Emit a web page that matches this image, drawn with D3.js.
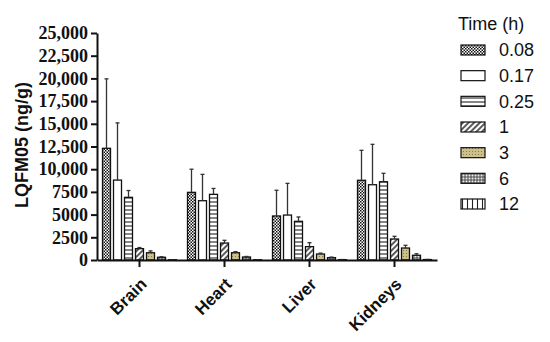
<!DOCTYPE html>
<html>
<head>
<meta charset="utf-8">
<script src="https://cdn.jsdelivr.net/npm/d3@7"></script>
<style>
body { margin: 0; background: #fff; }
</style>
</head>
<body>
<div id="chart"></div>
<script>
// data (mean and upper SD per organ, one value per time point)
const organs = ["Brain", "Heart", "Liver", "Kidneys"];
const times = ["0.08", "0.17", "0.25", "1", "3", "6", "12"];
const brainMean = [12300, 8800, 6900, 1250, 800, 300, 30];
const brainSD = [7650, 6300, 750, 120, 200, 60, 10];
const heartMean = [7450, 6530, 7230, 1870, 800, 330, 30];
const heartSD = [2550, 2900, 650, 300, 120, 60, 10];
const liverMean = [4850, 4950, 4260, 1470, 660, 260, 40];
const liverSD = [2830, 3490, 480, 440, 100, 60, 10];
const kidneysMean = [8780, 8290, 8620, 2310, 1320, 520, 50];
const kidneysSD = [3300, 4450, 930, 300, 300, 170, 10];
const yTicks = [0, 2500, 5000, 7500, 10000, 12500, 15000, 17500, 20000, 22500, 25000];

const means = [brainMean, heartMean, liverMean, kidneysMean];
const sds = [brainSD, heartSD, liverSD, kidneysSD];
const rows = [];
organs.forEach((o, i) => {
    times.forEach((t, j) => {
        rows.push({ organ: o, time: t, mean: means[i][j], sd: sds[i][j] });
    });
});

//constants
const width = 550;
const height = 342;
const margins = { top: 33, bottom: 82, left: 97, right: 113 };

const svg = d3.select("#chart")
    .append("svg")
    .attr("width", width)
    .attr("height", height);

//patterns
const defs = svg.append("defs");
function pat(id, w, h) {
    const p = defs.append("pattern")
        .attr("id", id)
        .attr("patternUnits", "userSpaceOnUse")
        .attr("width", w)
        .attr("height", h);
    return p;
}
// 0.08 checker
let p = pat("p0", 3, 3);
p.append("rect").attr("width", 3).attr("height", 3).attr("fill", "#fff");
p.append("rect").attr("width", 1.5).attr("height", 1.5).attr("fill", "#111");
p.append("rect").attr("x", 1.5).attr("y", 1.5).attr("width", 1.5).attr("height", 1.5).attr("fill", "#111");
// 0.17 white
p = pat("p1", 4, 4);
p.append("rect").attr("width", 4).attr("height", 4).attr("fill", "#fff");
// 0.25 horizontal lines
p = pat("p2", 4, 4);
p.append("rect").attr("width", 4).attr("height", 4).attr("fill", "#fff");
p.append("line").attr("x1", 0).attr("x2", 4).attr("y1", 2).attr("y2", 2).attr("stroke", "#222").attr("stroke-width", 1.1);
// 1 diagonal lines
p = pat("p3", 4, 4);
p.attr("patternTransform", "rotate(45)");
p.append("rect").attr("width", 4).attr("height", 4).attr("fill", "#fff");
p.append("line").attr("x1", 2).attr("x2", 2).attr("y1", 0).attr("y2", 4).attr("stroke", "#222").attr("stroke-width", 1.5);
// 3 khaki dotted
p = pat("p4", 3, 3);
p.append("rect").attr("width", 3).attr("height", 3).attr("fill", "#cdc08a");
p.append("circle").attr("cx", 1.5).attr("cy", 1.5).attr("r", 0.5).attr("fill", "#6b6445");
// 6 circles
p = pat("p5", 3, 3);
p.append("rect").attr("width", 3).attr("height", 3).attr("fill", "#666");
p.append("circle").attr("cx", 1.5).attr("cy", 1.5).attr("r", 1).attr("fill", "#eee");
// 12 vertical lines
p = pat("p6", 5, 5);
p.append("rect").attr("width", 5).attr("height", 5).attr("fill", "#fff");
p.append("line").attr("x1", 2.5).attr("x2", 2.5).attr("y1", 0).attr("y2", 5).attr("stroke", "#222").attr("stroke-width", 1.1);

const fillFor = d3.scaleOrdinal()
    .domain(times)
    .range(times.map((t, i) => "url(#p" + i + ")"));

//SCALES
const xScale = d3.scaleBand()
    .domain(organs)
    .range([margins.left, width - margins.right]);
const xInner = d3.scaleBand()
    .domain(times)
    .range([0, 77])
    .paddingInner(3 / 11)
    .paddingOuter(3 / 22);
const yScale = d3.scaleLinear()
    .domain([0, 25000])
    .range([height - margins.bottom, margins.top]);

const groupX = o => xScale(o) + xScale.bandwidth() / 2 - 38.5;

//bars
svg.selectAll("rect.bar")
    .data(rows)
    .join("rect")
    .attr("class", "bar")
    .attr("x", d => groupX(d.organ) + xInner(d.time))
    .attr("y", d => yScale(d.mean))
    .attr("width", xInner.bandwidth())
    .attr("height", d => yScale(0) - yScale(d.mean))
    .attr("fill", d => fillFor(d.time))
    .attr("stroke", "#111")
    .attr("stroke-width", 1.3);

//error bars (upper only)
const err = svg.selectAll("g.err")
    .data(rows)
    .join("g")
    .attr("class", "err")
    .attr("stroke", "#333")
    .attr("stroke-width", 1.3);
err.append("line")
    .attr("x1", d => groupX(d.organ) + xInner(d.time) + xInner.bandwidth() / 2)
    .attr("x2", d => groupX(d.organ) + xInner(d.time) + xInner.bandwidth() / 2)
    .attr("y1", d => yScale(d.mean))
    .attr("y2", d => yScale(d.mean + d.sd));
err.append("line")
    .attr("x1", d => groupX(d.organ) + xInner(d.time) + xInner.bandwidth() / 2 - 2)
    .attr("x2", d => groupX(d.organ) + xInner(d.time) + xInner.bandwidth() / 2 + 2)
    .attr("y1", d => yScale(d.mean + d.sd))
    .attr("y2", d => yScale(d.mean + d.sd));

//axes
const yAxis = svg.append("g")
    .attr("transform", `translate(${margins.left},0)`)
    .call(d3.axisLeft(yScale)
        .tickValues(yTicks)
        .tickSize(6)
        .tickSizeOuter(0)
        .tickPadding(3)
        .tickFormat(d => d >= 10000 ? d3.format(",")(d) : d));
yAxis.selectAll("path, line").attr("stroke", "#111").attr("stroke-width", 2);
yAxis.selectAll("text")
    .attr("font-family", "'Liberation Serif', 'Times New Roman', serif")
    .attr("font-weight", "bold")
    .attr("font-size", 18)
    .attr("fill", "#111");

const xAxis = svg.append("g")
    .attr("transform", `translate(0,${height - margins.bottom})`)
    .call(d3.axisBottom(xScale).tickSize(7).tickSizeOuter(0));
xAxis.selectAll("path, line").attr("stroke", "#111").attr("stroke-width", 2);
xAxis.selectAll("text")
    .attr("font-family", "'Liberation Sans', Arial, sans-serif")
    .attr("font-weight", "bold")
    .attr("font-size", 17)
    .attr("fill", "#111")
    .attr("text-anchor", "end")
    .attr("dy", "0.35em")
    .attr("transform", "translate(-3,14) rotate(-45)");

//y label
svg.append("text")
    .attr("transform", "translate(28,145) rotate(-90)")
    .attr("text-anchor", "middle")
    .attr("font-family", "'Liberation Sans', Arial, sans-serif")
    .attr("font-weight", "bold")
    .attr("font-size", 18)
    .attr("fill", "#111")
    .text("LQFM05 (ng/g)");

//legend
const legend = svg.append("g")
    .attr("font-family", "'Liberation Sans', Arial, sans-serif")
    .attr("font-size", 18)
    .attr("fill", "#111");
legend.append("text")
    .attr("x", 458)
    .attr("y", 30)
    .text("Time (h)");
const legendY = d3.scalePoint()
    .domain(times)
    .range([50, 204]);
legend.selectAll("rect")
    .data(times)
    .join("rect")
    .attr("x", 461)
    .attr("y", d => legendY(d) - 5)
    .attr("width", 24)
    .attr("height", 10)
    .attr("fill", d => fillFor(d))
    .attr("stroke", "#111")
    .attr("stroke-width", 1.2);
legend.selectAll("text.lab")
    .data(times)
    .join("text")
    .attr("class", "lab")
    .attr("x", 499)
    .attr("y", d => legendY(d))
    .attr("dy", "0.36em")
    .text(d => d);
</script>
</body>
</html>
